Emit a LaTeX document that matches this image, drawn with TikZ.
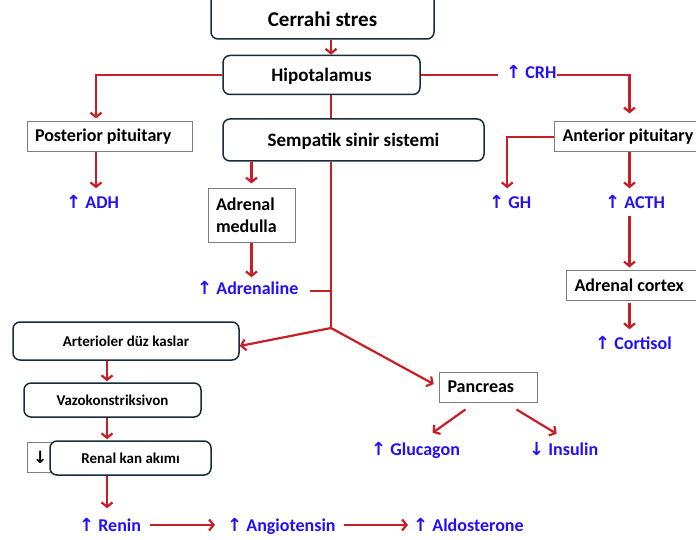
\documentclass[tikz,border=0pt]{standalone}
\usepackage{fontspec}
\setmainfont{Carlito}
\newfontfamily\arrfont{DejaVu Sans}
\usetikzlibrary{arrows.meta}
\definecolor{lred}{RGB}{200,30,38}
\definecolor{hblue}{RGB}{35,15,250}
\definecolor{navy}{RGB}{22,44,58}
\definecolor{gbox}{RGB}{125,125,125}
\newcommand{\upa}{{\arrfont\bfseries ↑}}
\newcommand{\dna}{{\arrfont\bfseries ↓}}
\begin{document}
\begin{tikzpicture}[x=1pt,y=-1pt,
  rbox/.style={draw=navy, line width=1.5pt, rounded corners=7pt, font=\fontsize{19}{22}\selectfont\bfseries, inner sep=0pt, fill=white, align=center},
  smbox/.style={rbox, font=\fontsize{15}{18}\selectfont\bfseries},
  sbox/.style={draw=gbox, line width=1pt, font=\fontsize{18}{22}\selectfont\bfseries, inner ysep=0pt, inner xsep=8pt, fill=white, align=flush left},
  hor/.style={text=hblue, font=\fontsize{18}{20}\selectfont\bfseries, inner sep=0pt, text height=13pt, text depth=0pt, anchor=west},
  conn/.style={draw=lred, line width=2.2pt},
  arw/.style={conn, -{Straight Barb[length=4.5pt,width=11pt]}},
]
\useasboundingbox (0,0) rectangle (696,540);
\clip (0,0) rectangle (696,540);
\fill[white] (0,0) rectangle (696,540);
\coordinate (br) at (331,328);

% boxes
\node[rbox, font=\fontsize{21}{24}\selectfont\bfseries, minimum width=223pt, minimum height=59pt, text height=34pt, text depth=0pt] (cer) at (322.5,9.5) {Cerrahi stres};
\node[rbox, minimum width=197pt, minimum height=39pt, text height=13pt, text depth=0pt] (hipo) at (321.5,75) {Hipotalamus};
\node[rbox, minimum width=261pt, minimum height=42pt, text height=13pt, text depth=0pt] (semp) at (353.5,140) {Sempatik sinir sistemi};
\node[sbox, text width=149pt, minimum height=30pt] (post) at (109.5,137) {Posterior pituitary};
\node[sbox, text width=143pt, minimum height=30pt, anchor=west] (ant) at (554,137) {Anterior pituitary};
\node[sbox, text width=71pt, minimum height=53pt] (med) at (251.5,215.5) {Adrenal\\medulla};
\node[sbox, text width=131pt, minimum height=30pt, anchor=west] (ctx) at (566,285) {Adrenal cortex};
\node[sbox, text width=82pt, minimum height=30pt, anchor=west] (panc) at (439,387) {Pancreas};
\node[smbox, minimum width=226pt, minimum height=38pt] (art) at (126,341) {Arterioler düz kaslar};
\node[smbox, minimum width=177pt, minimum height=34pt] (vazo) at (112.5,400) {Vazokonstriksivon};
\node[sbox, inner xsep=0pt, text width=24pt, minimum height=30pt, font=\fontsize{17}{20}\selectfont] (small) at (39,457) {\hspace{6pt}\dna};
\node[smbox, minimum width=161pt, minimum height=34pt] (renal) at (130.5,458) {Renal kan akımı};

% hormone labels
\node[hor] (crh) at (506,72) {\upa\ CRH};
\node[hor] (adh) at (66,202) {\upa\ ADH};
\node[hor] (gh) at (489,202) {\upa\ GH};
\node[hor] (acth) at (605,202) {\upa\ ACTH};
\node[hor] (adr) at (197,288) {\upa\ Adrenaline};
\node[hor] (cort) at (595,343) {\upa\ Cortisol};
\node[hor] (gluc) at (371,449) {\upa\ Glucagon};
\node[hor] (ins) at (529,449) {\dna\ Insulin};
\node[hor] (renin) at (79,525) {\upa\ Renin};
\node[hor] (angio) at (227,525) {\upa\ Angiotensin};
\node[hor] (aldo) at (413,525) {\upa\ Aldosterone};

% connectors
\draw[arw] (cer.south -| br) -- (hipo.north -| br);
\draw[conn] (hipo.south -| br) -- (semp.north -| br);
\draw[arw, shorten >=3pt] (hipo.west) -| ([xshift=-13.5pt]post.north);
\draw[arw, shorten >=7pt] ([xshift=-13.5pt]post.south) -- ([xshift=-13.5pt]post.south |- adh.north);
\draw[conn, shorten >=8pt] (hipo.east) -- (hipo.east -| crh.west);
\draw[arw, shorten >=8pt] (crh.east |- hipo.east) -| ([xshift=-4.5pt]ant.north);
\draw[arw, shorten >=7pt] (ant.west) -| ([xshift=-3pt]gh.north);
\draw[arw, shorten >=7pt] ([xshift=-4.5pt]ant.south) -- ([xshift=-4.5pt]ant.south |- acth.north);
\draw[arw, shorten <=7pt, shorten >=2pt] ([xshift=-10.5pt]ctx.north |- acth.south) -- ([xshift=-10.5pt]ctx.north);
\draw[arw, shorten <=2pt, shorten >=7pt] ([xshift=-10.5pt]ctx.south) -- ([xshift=-10.5pt]ctx.south |- cort.north);
\draw[arw, shorten >=5pt] (med.north |- semp.south) -- (med.north);
\draw[arw, shorten >=4pt] (med.south) -- (med.south |- adr.north);
\draw[conn] (semp.south -| br) -- (br);
\draw[conn, shorten <=12pt] ([yshift=-3pt]adr.east) -- ([yshift=-3pt]adr.east -| br);
\draw[arw] (br) -- ([yshift=-5pt]art.east);
\draw[arw, shorten >=6pt] (br) -- (panc.west);
\draw[arw, shorten >=1pt] ([xshift=-19pt]art.south) -- ([xshift=-19pt]art.south |- vazo.north);
\draw[arw, shorten >=1pt] ([xshift=-5.5pt]vazo.south) -- ([xshift=-5.5pt]vazo.south |- renal.north);
\draw[arw, shorten >=10pt] ([xshift=-23.5pt]renal.south) -- ([xshift=-23.5pt]renal.south |- renin.north);
\draw[arw, shorten <=9pt, shorten >=12pt] (renin.east) -- (angio.west);
\draw[arw, shorten <=8pt, shorten >=5pt] (angio.east) -- (aldo.west);
\draw[arw] ([xshift=-23pt,yshift=-7pt]panc.south) -- ([xshift=17pt,yshift=9.5pt]gluc.north);
\draw[arw] ([xshift=28pt,yshift=-7pt]panc.south) -- ([xshift=-7pt,yshift=8.5pt]ins.north);
\end{tikzpicture}
\end{document}
